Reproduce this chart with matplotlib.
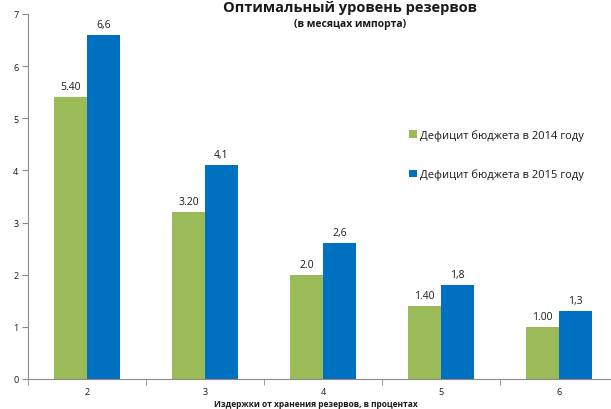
import matplotlib
matplotlib.use("Agg")
import matplotlib.pyplot as plt
import numpy as np

plt.rcParams['font.family'] = ['Open Sans', 'DejaVu Sans']

categories = ["2", "3", "4", "5", "6"]
deficit_2014 = [5.40, 3.20, 2.0, 1.40, 1.00]
deficit_2015 = [6.6, 4.1, 2.6, 1.8, 1.3]
labels_2014 = ["5.40", "3.20", "2.0", "1.40", "1.00"]
labels_2015 = ["6,6", "4,1", "2,6", "1,8", "1,3"]
series_names = ["Дефицит бюджета в 2014 году", "Дефицит бюджета в 2015 году"]

GREEN = "#9BBB59"
BLUE = "#0070C0"
AXC = "#8c8c8c"
TXT = "#1a1a1a"

W, H = 611, 410
fig = plt.figure(figsize=(W / 100, H / 100), dpi=100)
ax = fig.add_axes([28 / W, 30 / H, 590 / W, 365 / H])

x = np.arange(len(categories))
bw = 0.28
b1 = ax.bar(x - bw / 2, deficit_2014, bw, color=GREEN, label=series_names[0])
b2 = ax.bar(x + bw / 2, deficit_2015, bw, color=BLUE, label=series_names[1])

for rect, s in zip(b1, labels_2014):
    ax.text(rect.get_x() + rect.get_width() / 2, rect.get_height() + 0.1, s,
            ha="center", va="bottom", fontsize=7.5, color=TXT)
for rect, s in zip(b2, labels_2015):
    ax.text(rect.get_x() + rect.get_width() / 2, rect.get_height() + 0.1, s,
            ha="center", va="bottom", fontsize=7.5, color=TXT)

ax.set_xlim(-0.5, len(categories) - 0.5)
ax.set_ylim(0, 7)
ax.set_yticks(range(0, 8))
ax.set_xticks(x)
ax.set_xticklabels(categories)
ax.set_xticks(np.arange(-0.5, len(categories) + 0.5, 1), minor=True)
ax.tick_params(axis="x", which="major", length=0, labelsize=6.5, colors=TXT, pad=6)
ax.tick_params(axis="x", which="minor", length=4, color=AXC, direction="out")
ax.tick_params(axis="y", length=4, color=AXC, direction="out", labelsize=6.5,
               labelcolor=TXT, pad=3)
for sp in ["top", "right"]:
    ax.spines[sp].set_visible(False)
for sp in ["left", "bottom"]:
    ax.spines[sp].set_color(AXC)
    ax.spines[sp].set_linewidth(0.8)

fig.text(350 / W, 1 - 8 / H, "Оптимальный уровень резервов", ha="center", va="center",
         fontsize=10.5, fontweight="bold", color=TXT)
fig.text(350 / W, 1 - 25 / H, "(в месяцах импорта)", ha="center", va="center",
         fontsize=7.5, fontweight="bold", color=TXT)
fig.text(316 / W, 1 - 405 / H, "Издержки от хранения резервов, в процентах", ha="center",
         va="center", fontsize=6, fontweight="bold", color=TXT)

ax.legend(loc="upper left", bbox_to_anchor=(371 / 590, (380 - 120) / 365), frameon=False,
          fontsize=8, handlelength=0.7, handleheight=0.7, handletextpad=0.25,
          labelspacing=2.5, labelcolor=TXT)

fig.savefig("out.png", dpi=100, facecolor="white")
